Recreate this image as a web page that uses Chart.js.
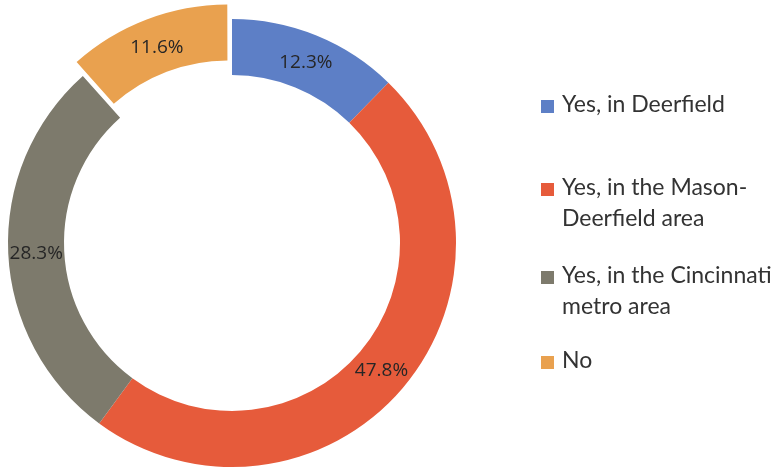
<!DOCTYPE html>
<html>
<head>
<meta charset="utf-8">
<script src="https://cdn.jsdelivr.net/npm/chart.js@4/dist/chart.umd.min.js"></script>
<style>
    html, body { margin: 0; padding: 0; background: #fff; overflow: hidden; }
    #wrap { position: relative; width: 776px; height: 473px; }
    #chart { position: absolute; left: 0; top: 0; }
    #legend { position: absolute; left: 541px; top: 0; font-family: Lato, sans-serif; font-size: 23px; color: #333; }
    .item { position: absolute; left: 0; white-space: nowrap; line-height: 31px; }
    .item span.box { position: absolute; left: 0; top: 12px; width: 13px; height: 13px; }
    .item span.txt { display: block; margin-left: 21px; }
</style>
</head>
<body>
<div id="wrap">
    <canvas id="chart" width="776" height="473"></canvas>
    <div id="legend"></div>
</div>
<script>
// Survey answers
const categories = ['Yes, in Deerfield', 'Yes, in the Mason-Deerfield area', 'Yes, in the Cincinnati metro area', 'No'];
const legendLines = [['Yes, in Deerfield'], ['Yes, in the Mason-', 'Deerfield area'], ['Yes, in the Cincinnati', 'metro area'], ['No']];
const shares = [12.3, 47.8, 28.3, 11.6];
const sliceColors = ['#5d7fc6', '#e65b3b', '#7d7a6c', '#e9a14f'];
const legendTops = [88, 171, 259, 344];

// Percent labels sitting in the middle of each ring segment
const sliceLabels = {
    id: 'sliceLabels',
    afterDatasetsDraw(chart) {
        const ctx = chart.ctx;
        const meta = chart.getDatasetMeta(0);
        ctx.save();
        ctx.font = '19px "Open Sans", sans-serif';
        ctx.fillStyle = '#262626';
        ctx.textAlign = 'center';
        ctx.textBaseline = 'middle';
        meta.data.forEach((arc, i) => {
            const p = arc.getProps(['x', 'y', 'startAngle', 'endAngle', 'innerRadius', 'outerRadius']);
            const off = arc.options.offset || 0;
            const mid = (p.startAngle + p.endAngle) / 2;
            const r = (p.innerRadius + p.outerRadius) / 2 + off * 0.32;
            ctx.fillText(shares[i].toFixed(1) + '%', p.x + Math.cos(mid) * r, p.y + Math.sin(mid) * r + 1);
        });
        ctx.restore();
    }
};

new Chart(document.getElementById('chart'), {
    type: 'doughnut',
    data: {
        labels: categories,
        datasets: [{
            data: shares,
            backgroundColor: sliceColors,
            borderWidth: 0,
            offset: [0, 0, 0, 46]
        }]
    },
    options: {
        responsive: false,
        animation: false,
        radius: 224,
        cutout: '75%',
        layout: { padding: { left: 0, right: 312, top: 13, bottom: 0 } },
        plugins: {
            legend: { display: false },
            tooltip: { enabled: false }
        }
    },
    plugins: [sliceLabels]
});

// Legend on the right
const legend = document.getElementById('legend');
legendLines.forEach((lines, i) => {
    const item = document.createElement('div');
    item.className = 'item';
    item.style.top = legendTops[i] + 'px';
    item.innerHTML = '<span class="box" style="background:' + sliceColors[i] + '"></span>' +
        '<span class="txt">' + lines.join('<br>') + '</span>';
    legend.appendChild(item);
});
</script>
</body>
</html>
